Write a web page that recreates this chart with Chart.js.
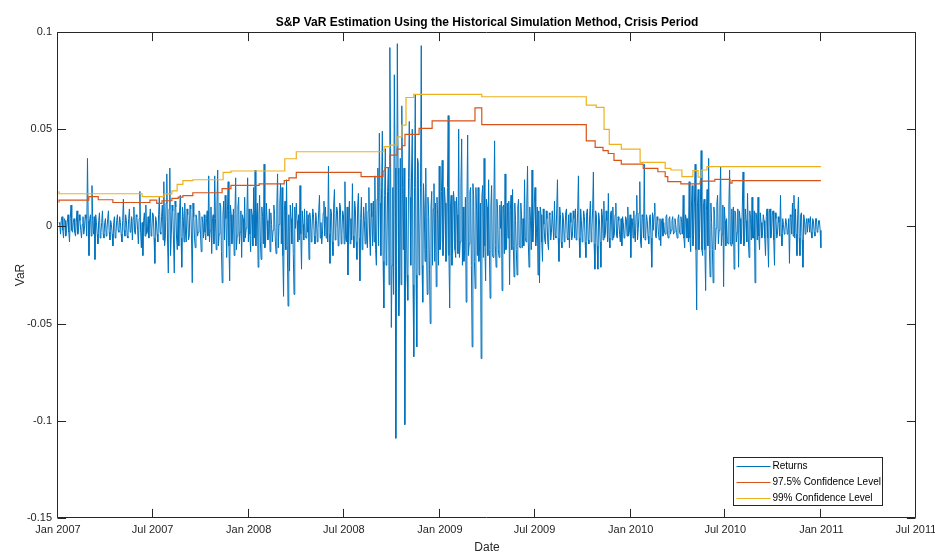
<!DOCTYPE html>
<html>
<head>
<meta charset="utf-8">
<script src="https://cdn.jsdelivr.net/npm/chart.js@4.4.0/dist/chart.umd.min.js"></script>
<style>
  html, body { margin: 0; padding: 0; background: #ffffff; }
  canvas { display: block; }
</style>
</head>
<body>
<canvas id="varChart" width="935" height="552"></canvas>
<script>
// ---- data ----
// Daily S&P loss series (positive = loss), evenly spaced trading days from firstDate to lastDate
const firstDate = '2007-01-03';
const lastDate = '2010-12-31';
const returns = [
  0.002, 0.001, -0.004, 0.003, 0.005, -0.002, -0.006, 0.004, 0.003, -0.005, -0.002, 0.002, 0.006, -0.003, -0.008, 0.004, 0.011, -0.002, -0.003, 0.002,
  0.004, -0.003, -0.005, 0.002, 0.008, -0.004, -0.002, 0.006, 0.003, -0.002, -0.006, 0.001, 0.005, -0.004, -0.001, 0.006, 0.004, -0.005, 0.035, 0.003,
  -0.015, 0.004, 0.006, -0.005, 0.021, 0.003, -0.004, 0.005, -0.017, 0.006, 0.002, -0.004, -0.009, 0.003, 0.007, -0.006, -0.003, 0.002, 0.008, -0.004,
  -0.006, 0.002, 0.004, -0.005, -0.002, 0.004, 0.008, -0.003, -0.007, 0.003, 0.001, -0.004, -0.010, 0.002, 0.005, -0.006, -0.004, 0.003, 0.006, -0.002,
  -0.003, 0.005, 0.002, -0.004, -0.008, 0.003, 0.014, -0.002, -0.005, 0.006, 0.003, -0.005, -0.006, 0.004, 0.009, -0.003, -0.002, 0.005, -0.007, 0.004,
  0.010, -0.003, -0.004, 0.006, 0.005, -0.002, -0.009, 0.004, 0.018, -0.003, -0.011, 0.002, -0.015, 0.003, 0.007, -0.005, 0.011, -0.004, -0.003, 0.005,
  -0.006, 0.004, 0.009, -0.005, -0.002, 0.007, 0.006, -0.006, -0.019, 0.005, 0.003, -0.004, -0.008, 0.006, 0.015, -0.003, -0.004, 0.005, 0.011, -0.007,
  0.023, -0.010, -0.006, 0.012, 0.027, -0.008, -0.024, 0.009, 0.030, -0.015, -0.004, 0.011, 0.008, -0.009, -0.024, 0.013, 0.010, -0.006, -0.012, 0.007,
  -0.010, 0.008, 0.016, -0.006, -0.021, 0.010, 0.005, -0.008, 0.012, -0.004, -0.008, 0.009, 0.006, -0.007, -0.005, 0.011, 0.009, -0.006, -0.029, 0.012,
  0.005, -0.006, -0.011, 0.006, 0.004, -0.005, -0.003, 0.008, 0.007, -0.004, -0.013, 0.005, 0.002, -0.006, 0.006, -0.003, -0.007, 0.004, 0.008, -0.005,
  0.026, -0.008, -0.002, 0.010, -0.014, 0.004, 0.006, -0.009, 0.026, 0.004, -0.012, 0.011, 0.029, -0.010, -0.004, 0.012, 0.010, -0.013, -0.029, 0.006,
  0.013, -0.007, 0.016, 0.004, -0.016, 0.008, 0.023, -0.010, -0.028, 0.011, 0.006, -0.009, -0.001, 0.009, -0.015, 0.006, 0.025, -0.012, -0.005, 0.010,
  0.015, -0.009, -0.003, 0.008, -0.016, 0.006, 0.004, -0.008, 0.015, -0.006, -0.001, 0.007, 0.025, -0.008, 0.009, -0.004, -0.013, 0.009, 0.006, -0.010,
  0.020, -0.006, 0.029, -0.010, 0.006, 0.012, -0.021, 0.006, 0.016, -0.008, -0.017, 0.010, 0.005, -0.009, 0.032, -0.011, -0.008, 0.012, 0.003, -0.007,
  -0.004, 0.009, -0.013, 0.007, 0.001, -0.008, -0.002, 0.011, 0.006, -0.007, -0.014, 0.010, 0.027, -0.011, 0.001, 0.012, 0.022, -0.009, 0.020, -0.015,
  -0.036, 0.008, 0.013, -0.012, 0.024, -0.010, -0.041, 0.006, -0.023, 0.011, 0.004, -0.009, 0.012, -0.014, -0.035, 0.010, -0.001, 0.012, 0.003, -0.008,
  0.006, -0.007, 0.021, -0.004, -0.022, 0.008, 0.001, -0.007, 0.009, -0.005, -0.006, 0.008, -0.003, 0.006, -0.017, 0.007, 0.004, -0.008, -0.002, 0.009,
  0.006, -0.005, -0.009, 0.007, 0.003, -0.008, -0.001, 0.008, 0.016, -0.006, 0.002, -0.009, -0.004, 0.007, 0.013, -0.005, 0.010, -0.006, 0.005, -0.008,
  0.031, -0.004, -0.019, 0.009, 0.007, -0.008, -0.015, 0.011, 0.019, -0.007, -0.001, 0.010, 0.008, -0.010, -0.006, 0.012, 0.010, -0.009, -0.004, 0.008,
  0.006, -0.009, 0.023, -0.006, -0.008, 0.010, -0.025, 0.004, 0.013, -0.009, 0.004, -0.007, 0.022, -0.005, -0.011, 0.013, 0.009, -0.008, -0.017, 0.010,
  0.017, -0.006, -0.028, 0.004, 0.015, -0.012, -0.008, 0.010, 0.003, -0.009, 0.012, -0.006, -0.011, 0.008, 0.020, -0.005, -0.015, 0.012, 0.005, -0.010,
  0.013, -0.008, 0.026, -0.012, -0.020, 0.014, 0.030, -0.010, 0.048, 0.012, -0.015, 0.020, 0.049, -0.018, -0.042, 0.016, 0.040, -0.020, -0.014, 0.018,
  0.030, -0.030, 0.092, 0.040, -0.052, -0.020, 0.020, -0.035, 0.078, 0.030, -0.109, -0.020, 0.094, 0.030, -0.046, -0.025, 0.035, -0.030, 0.062, 0.020,
  -0.012, 0.030, -0.102, -0.020, 0.015, -0.025, -0.038, 0.025, 0.054, 0.015, -0.020, 0.028, 0.050, -0.030, -0.067, 0.020, 0.068, -0.025, -0.062, 0.035,
  0.033, -0.025, -0.008, 0.020, 0.093, -0.020, -0.039, 0.022, 0.010, -0.018, 0.030, -0.012, -0.035, 0.015, 0.005, -0.022, -0.050, 0.010, 0.018, -0.020,
  0.009, 0.022, -0.018, 0.012, -0.031, 0.015, 0.004, -0.020, 0.031, -0.012, -0.008, 0.018, 0.034, -0.015, -0.004, 0.020, 0.012, -0.018, -0.014, 0.020,
  0.057, -0.015, -0.042, 0.010, 0.016, -0.020, -0.008, 0.018, 0.013, -0.012, -0.016, 0.015, 0.006, -0.014, 0.050, -0.016, -0.008, 0.022, 0.045, -0.020,
  0.010, -0.018, -0.012, 0.015, -0.039, 0.012, 0.047, -0.015, -0.009, 0.018, 0.020, -0.020, -0.062, 0.022, 0.016, -0.018, -0.032, 0.020, 0.008, -0.015,
  0.020, -0.018, -0.010, 0.012, -0.068, 0.015, 0.021, -0.016, 0.035, -0.010, -0.028, 0.014, 0.010, -0.015, 0.024, -0.012, -0.037, 0.010, 0.021, -0.014,
  -0.016, 0.012, 0.044, -0.010, -0.021, 0.014, 0.009, -0.012, -0.016, 0.011, -0.001, 0.013, -0.033, 0.010, 0.011, -0.014, 0.027, -0.012, -0.011, 0.012,
  -0.006, 0.013, -0.030, 0.008, 0.016, -0.012, 0.019, -0.010, -0.026, 0.012, 0.003, -0.012, -0.025, 0.010, 0.014, -0.010, -0.011, 0.012, 0.006, -0.011,
  0.004, -0.010, 0.024, -0.006, -0.008, 0.012, 0.031, -0.008, -0.021, 0.010, 0.003, -0.012, 0.029, -0.008, -0.001, 0.012, 0.020, -0.010, -0.003, 0.010,
  -0.025, 0.008, -0.029, 0.010, 0.006, -0.008, -0.018, 0.009, 0.001, -0.007, -0.009, 0.008, 0.004, -0.008, -0.012, 0.007, 0.006, -0.007, -0.003, 0.008,
  0.008, -0.007, 0.013, -0.005, -0.006, 0.009, 0.024, -0.006, -0.018, 0.010, 0.006, -0.008, -0.011, 0.007, 0.004, -0.008, -0.004, 0.007, 0.009, -0.006,
  -0.007, 0.006, -0.011, 0.007, 0.002, -0.007, -0.005, 0.008, 0.004, -0.006, 0.009, -0.007, -0.005, 0.008, 0.026, -0.006, -0.016, 0.009, 0.003, -0.008,
  -0.003, 0.008, 0.005, -0.008, -0.016, 0.007, 0.009, -0.007, -0.009, 0.006, 0.013, -0.008, -0.002, 0.009, 0.028, -0.009, -0.022, 0.008, 0.006, -0.010,
  -0.022, 0.007, 0.004, -0.008, -0.021, 0.009, 0.006, -0.007, 0.013, -0.006, -0.004, 0.008, 0.003, -0.008, 0.017, -0.006, -0.011, 0.007, 0.008, -0.007,
  0.010, -0.006, -0.004, 0.006, 0.012, -0.005, -0.006, 0.005, 0.003, -0.004, -0.008, 0.004, -0.010, 0.005, 0.002, -0.006, -0.005, 0.005, 0.004, -0.005,
  0.010, -0.005, -0.003, 0.006, -0.016, 0.004, 0.004, -0.006, 0.008, -0.004, -0.008, 0.006, 0.016, -0.007, -0.001, 0.007, 0.023, -0.008, -0.011, 0.006,
  0.005, -0.006, 0.032, -0.007, -0.004, 0.006, 0.003, -0.005, -0.009, 0.005, 0.006, -0.006, -0.021, 0.007, -0.002, 0.006, 0.012, -0.005, -0.006, 0.005,
  0.003, -0.004, -0.007, 0.004, -0.010, 0.003, 0.004, -0.005, 0.002, -0.003, -0.004, 0.005, 0.006, -0.004, -0.006, 0.004, 0.005, -0.004, -0.002, 0.003,
  0.005, -0.004, -0.003, 0.004, 0.001, -0.003, -0.006, 0.004, 0.006, -0.003, -0.004, 0.005, 0.002, -0.004, 0.016, -0.006, -0.011, 0.006, 0.004, -0.006,
  0.004, -0.008, 0.023, -0.006, -0.013, 0.010, 0.021, -0.010, -0.004, 0.012, 0.032, -0.012, -0.043, 0.010, 0.019, -0.012, -0.003, 0.012, 0.039, -0.012,
  -0.015, 0.010, 0.014, -0.012, -0.033, 0.008, 0.019, -0.010, 0.035, -0.012, -0.026, 0.012, 0.002, -0.012, -0.029, 0.010, 0.006, -0.012, -0.001, 0.012,
  0.016, -0.009, -0.002, 0.010, 0.031, -0.010, -0.004, 0.011, -0.031, 0.010, 0.003, -0.010, 0.004, -0.008, -0.009, 0.010, 0.029, -0.008, -0.010, 0.009,
  -0.009, 0.010, -0.022, 0.008, 0.007, -0.008, -0.003, 0.009, -0.021, 0.008, 0.004, -0.009, -0.006, 0.010, 0.028, -0.010, -0.008, 0.009, 0.003, -0.008,
  0.017, -0.006, -0.016, 0.008, 0.004, -0.007, 0.015, -0.006, -0.006, 0.008, -0.029, 0.007, 0.006, -0.007, 0.015, -0.005, -0.012, 0.007, 0.002, -0.006,
  -0.004, 0.006, 0.003, -0.006, -0.015, 0.005, 0.009, -0.006, -0.021, 0.007, 0.009, -0.006, -0.004, 0.006, 0.008, -0.007, -0.020, 0.007, 0.004, -0.006,
  -0.004, 0.005, 0.002, -0.005, 0.016, -0.004, -0.010, 0.004, 0.001, -0.004, -0.002, 0.004, 0.002, -0.004, -0.003, 0.004, -0.019, 0.006, 0.005, -0.004,
  0.012, -0.005, 0.016, -0.006, 0.009, -0.004, -0.015, 0.006, 0.015, -0.006, -0.015, 0.006, 0.007, -0.007, -0.021, 0.006, 0.004, -0.004, 0.001, 0.004,
  -0.003, 0.004, 0.002, -0.003, 0.005, -0.003, -0.006, 0.004, 0.003, -0.003, -0.005, 0.004, 0.004, -0.003, -0.002, 0.003, 0.003, -0.002, -0.011
];

// Historical-simulation VaR, 97.5% level: date on which each level starts
const var975Dates = [
  '2007-01-03', '2007-03-01', '2007-03-19', '2007-04-16', '2007-06-26', '2007-07-09',
  '2007-07-19', '2007-08-07', '2007-08-19', '2007-08-28', '2007-09-16', '2007-11-11',
  '2007-11-28', '2008-01-21', '2008-03-09', '2008-03-18', '2008-04-01', '2008-08-03',
  '2008-09-14', '2008-09-18', '2008-09-27', '2008-10-11', '2008-10-20', '2008-10-26',
  '2008-11-22', '2008-12-17', '2009-03-09', '2009-03-22', '2009-10-08', '2009-10-25',
  '2009-11-09', '2009-11-19', '2009-11-30', '2009-12-14', '2010-01-25', '2010-02-22',
  '2010-03-08', '2010-03-13', '2010-04-07', '2010-05-14', '2010-06-11', '2010-07-10',
  '2010-07-14', '2010-08-31', '2010-12-31'
];
const var975Values = [
  0.0123, 0.0135, 0.0153, 0.0137, 0.0123, 0.0135,
  0.0118, 0.0132, 0.0144, 0.0151, 0.0158, 0.0173,
  0.0194, 0.0211, 0.0219, 0.0236, 0.0250, 0.0278,
  0.0256, 0.0285, 0.0302, 0.0367, 0.0397, 0.0415,
  0.0473, 0.0504, 0.0543, 0.0610, 0.0524, 0.0440,
  0.0406, 0.0390, 0.0375, 0.0340, 0.0320, 0.0298,
  0.0281, 0.0256, 0.0230, 0.0219, 0.0233, 0.0242,
  0.0223, 0.0235, 0.0235
];

// Historical-simulation VaR, 99% level
const var99Dates = [
  '2007-01-03', '2007-06-11', '2007-07-23', '2007-08-07', '2007-08-17', '2007-08-28',
  '2007-09-16', '2007-11-13', '2007-11-28', '2008-03-10', '2008-04-01', '2008-09-16',
  '2008-09-27', '2008-10-11', '2008-10-20', '2008-10-28', '2008-11-12', '2009-03-22',
  '2009-10-08', '2009-10-27', '2009-11-11', '2009-11-21', '2009-12-14', '2010-01-19',
  '2010-03-08', '2010-03-19', '2010-04-09', '2010-04-30', '2010-05-10', '2010-05-16',
  '2010-05-27', '2010-07-06', '2010-12-31'
];
const var99Values = [
  0.0181, 0.0168, 0.0153, 0.0167, 0.0183, 0.0216,
  0.0235, 0.0240, 0.0278, 0.0285, 0.0348, 0.0384,
  0.0410, 0.0418, 0.0461, 0.0521, 0.0663, 0.0679,
  0.0667, 0.0624, 0.0612, 0.0499, 0.0422, 0.0397,
  0.0329, 0.0298, 0.0290, 0.0256, 0.0287, 0.0253,
  0.0290, 0.0307, 0.0307
];

// Axis ticks
const xTickDates = ['2007-01-01', '2007-07-01', '2008-01-01', '2008-07-01', '2009-01-01',
                    '2009-07-01', '2010-01-01', '2010-07-01', '2011-01-01', '2011-07-01'];
const xTickLabels = ['Jan 2007', 'Jul 2007', 'Jan 2008', 'Jul 2008', 'Jan 2009',
                     'Jul 2009', 'Jan 2010', 'Jul 2010', 'Jan 2011', 'Jul 2011'];
const yTickValues = [-0.15, -0.1, -0.05, 0, 0.05, 0.1];
const yTickLabels = ['-0.15', '-0.1', '-0.05', '0', '0.05', '0.1'];

const seriesNames = ['Returns', '97.5% Confidence Level', '99% Confidence Level'];
const seriesColors = ['#0072BD', '#D95319', '#EDB120'];

// ---- helpers ----
const ORIGIN = Date.UTC(2007, 0, 1);
function dayOf(iso) {
  const [y, m, d] = iso.split('-').map(Number);
  return (Date.UTC(y, m - 1, d) - ORIGIN) / 86400000;
}
const FONT = '"Liberation Sans", Arial, Helvetica, sans-serif';
const AXIS_COLOR = '#262626';

const startDay = dayOf(firstDate);
const endDay = dayOf(lastDate);
const stepDay = (endDay - startDay) / (returns.length - 1);
const returnPts = returns.map((v, i) => ({ x: startDay + i * stepDay, y: v }));
const var975Pts = var975Dates.map((d, i) => ({ x: dayOf(d), y: var975Values[i] }));
const var99Pts = var99Dates.map((d, i) => ({ x: dayOf(d), y: var99Values[i] }));
const xTickDays = xTickDates.map(dayOf);

// Box around the axes with inward tick marks on all four sides
const axesBox = {
  id: 'axesBox',
  afterDraw(chart) {
    const { ctx, chartArea: a, scales } = chart;
    const L = a.left - 0.5, R = a.right - 0.5, T = a.top + 0.5, B = a.bottom - 0.5;
    const tl = 8.6;
    ctx.save();
    ctx.strokeStyle = AXIS_COLOR;
    ctx.lineWidth = 1;
    ctx.beginPath();
    ctx.rect(L, T, R - L, B - T);
    xTickDays.forEach(v => {
      const px = Math.round(scales.x.getPixelForValue(v)) - 0.5;
      ctx.moveTo(px, B); ctx.lineTo(px, B - tl);
      ctx.moveTo(px, T); ctx.lineTo(px, T + tl);
    });
    yTickValues.forEach(v => {
      const py = Math.round(scales.y.getPixelForValue(v)) + 0.5;
      ctx.moveTo(L, py); ctx.lineTo(L + tl, py);
      ctx.moveTo(R, py); ctx.lineTo(R - tl, py);
    });
    ctx.stroke();
    ctx.restore();
  }
};

// Legend box in the lower right corner of the axes
const legendBox = {
  id: 'legendBox',
  afterDraw(chart) {
    const { ctx, chartArea: a } = chart;
    const w = 149, h = 48;
    const x0 = a.right - 182.5, y0 = a.bottom - 60.5;
    ctx.save();
    ctx.fillStyle = '#ffffff';
    ctx.fillRect(x0, y0, w, h);
    ctx.strokeStyle = AXIS_COLOR;
    ctx.lineWidth = 1;
    ctx.strokeRect(x0, y0, w, h);
    ctx.font = '10px ' + FONT;
    ctx.textBaseline = 'middle';
    ctx.textAlign = 'left';
    seriesNames.forEach((name, i) => {
      const y = Math.round(y0 + 8.5 + i * 16) + 0.5;
      ctx.strokeStyle = seriesColors[i];
      ctx.beginPath();
      ctx.moveTo(x0 + 3, y);
      ctx.lineTo(x0 + 37, y);
      ctx.stroke();
      ctx.fillStyle = '#000000';
      ctx.fillText(name, x0 + 39, y);
    });
    ctx.restore();
  }
};

new Chart(document.getElementById('varChart').getContext('2d'), {
  type: 'line',
  data: {
    datasets: [
      { label: seriesNames[0], data: returnPts, borderColor: seriesColors[0], borderWidth: 1,
        pointRadius: 0, borderJoinStyle: 'round', order: 2 },
      { label: seriesNames[1], data: var975Pts, borderColor: seriesColors[1], borderWidth: 1.2,
        pointRadius: 0, stepped: 'after', order: 1 },
      { label: seriesNames[2], data: var99Pts, borderColor: seriesColors[2], borderWidth: 1.2,
        pointRadius: 0, stepped: 'after', order: 0 }
    ]
  },
  options: {
    responsive: false,
    animation: false,
    events: [],
    layout: { autoPadding: false, padding: { top: 0, right: 19, bottom: 0, left: 0 } },
    plugins: {
      legend: { display: false },
      tooltip: { enabled: false },
      title: {
        display: true,
        fullSize: false,
        text: 'S&P VaR Estimation Using the Historical Simulation Method, Crisis Period',
        color: '#000000',
        font: { family: FONT, size: 12, weight: 'bold', lineHeight: 1.2 },
        padding: { top: 15, bottom: 2.6 }
      }
    },
    scales: {
      x: {
        type: 'linear',
        min: 0,
        max: dayOf('2011-07-01'),
        grid: { display: false, drawTicks: false },
        border: { display: false },
        afterBuildTicks(scale) { scale.ticks = xTickDays.map(v => ({ value: v })); },
        afterFit(scale) { scale.height = 34; scale.paddingLeft = 0; scale.paddingRight = 0; },
        ticks: {
          autoSkip: false, maxRotation: 0, minRotation: 0, padding: 5,
          color: AXIS_COLOR, font: { family: FONT, size: 11 },
          callback: (v, i) => xTickLabels[i]
        },
        title: {
          display: true, text: 'Date', color: AXIS_COLOR,
          font: { family: FONT, size: 12, lineHeight: 0.8 }, padding: { top: 0, bottom: 0 }
        }
      },
      y: {
        type: 'linear',
        min: -0.15,
        max: 0.1,
        grid: { display: false, drawTicks: false },
        border: { display: false },
        afterBuildTicks(scale) { scale.ticks = yTickValues.map(v => ({ value: v })); },
        afterFit(scale) { scale.width = 58; scale.paddingTop = 0; scale.paddingBottom = 0; },
        ticks: {
          padding: 6, color: AXIS_COLOR, font: { family: FONT, size: 11 },
          callback: (v, i) => yTickLabels[i]
        },
        title: {
          display: true, text: 'VaR', color: AXIS_COLOR,
          font: { family: FONT, size: 12, lineHeight: 1.2 }, padding: { top: 13, bottom: 0 }
        }
      }
    }
  },
  plugins: [axesBox, legendBox]
});
</script>
</body>
</html>
